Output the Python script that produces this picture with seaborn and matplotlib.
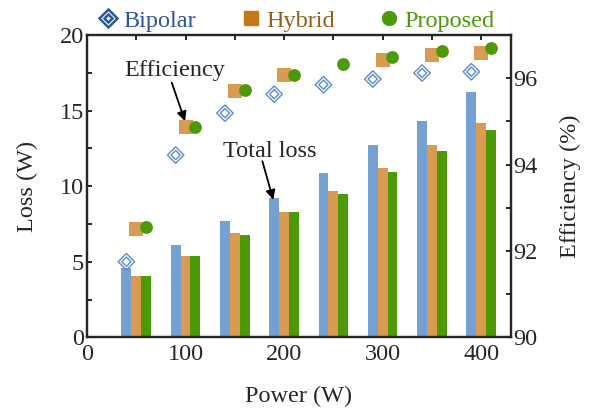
import numpy as np
import pandas as pd
import matplotlib
matplotlib.use("Agg")
import matplotlib.pyplot as plt
import seaborn as sns
from matplotlib.lines import Line2D
from matplotlib.legend_handler import HandlerTuple
from matplotlib.ticker import MultipleLocator

# ---- data ----
powers = [50, 100, 150, 200, 250, 300, 350, 400]
series = ["Bipolar", "Hybrid", "Proposed"]
loss_bipolar = [4.6, 6.1, 7.7, 9.2, 10.9, 12.7, 14.3, 16.2]
loss_hybrid = [4.05, 5.4, 6.9, 8.3, 9.7, 11.2, 12.75, 14.2]
loss_proposed = [4.05, 5.4, 6.8, 8.3, 9.5, 10.95, 12.35, 13.7]
eff_bipolar = [91.75, 94.22, 95.19, 95.63, 95.85, 95.98, 96.12, 96.15]
eff_hybrid = [92.5, 94.88, 95.71, 96.08, np.nan, 96.41, 96.54, 96.59]
eff_proposed = [92.56, 94.88, 95.73, 96.08, 96.34, 96.50, 96.64, 96.71]
x_ticks = [0, 100, 200, 300, 400]
left_ticks = [0, 5, 10, 15, 20]
right_ticks = [90, 92, 94, 96]

sns.set_style("ticks")
plt.rcParams["font.family"] = ["Liberation Serif", "DejaVu Serif"]

FS = 17.5

bar_colors = {"Bipolar": "#74a1d2", "Hybrid": "#d99b52", "Proposed": "#4c9a07"}

loss_df = pd.DataFrame({
    "Power": powers * 3,
    "Loss": loss_bipolar + loss_hybrid + loss_proposed,
    "Topology": [s for s in series for _ in powers],
})

fig = plt.figure(figsize=(5.97, 4.09), dpi=100)
ax = fig.add_axes([0.1457, 0.1753, 0.7098, 0.7391])

sns.barplot(data=loss_df, x="Power", y="Loss", hue="Topology", palette=bar_colors,
            native_scale=True, width=0.6, linewidth=0, saturation=1, ax=ax,
            legend=False, errorbar=None)

ax.set_xlim(0, 430)
ax.set_ylim(0, 20)
ax.set_xticks(x_ticks)
ax.xaxis.set_minor_locator(MultipleLocator(50))
ax.set_yticks(left_ticks)
ax.yaxis.set_minor_locator(MultipleLocator(2.5))
ax.tick_params(which="both", direction="in", length=3.5, width=1.4, top=True,
               labelsize=FS, pad=2)
ax.tick_params(axis="x", pad=5)
ax.set_xlabel("Power (W)", fontsize=FS, labelpad=15)
ax.set_ylabel("Loss (W)", fontsize=FS, labelpad=16)
for sp in ax.spines.values():
    sp.set_linewidth(1.6)

ax2 = ax.twinx()
ax2.set_ylim(90, 97)
ax2.set_yticks(right_ticks)
ax2.yaxis.set_minor_locator(MultipleLocator(1))
ax2.tick_params(which="both", direction="in", length=3.5, width=1.4, labelsize=FS, pad=2)
ax2.set_ylabel("Efficiency (%)", fontsize=FS, labelpad=16)
for sp in ax2.spines.values():
    sp.set_linewidth(1.6)

pw = np.array(powers, dtype=float)
sns.scatterplot(x=pw - 10, y=eff_bipolar, marker="D", s=70, facecolor="none",
                edgecolor="#5b8cc8", linewidth=1.0, ax=ax2, zorder=5)
sns.scatterplot(x=pw - 10, y=eff_bipolar, marker="D", s=22, facecolor="none",
                edgecolor="#5b8cc8", linewidth=1.0, ax=ax2, zorder=5)
sns.scatterplot(x=pw, y=eff_hybrid, marker="s", s=95, color="#d99b52",
                linewidth=0, ax=ax2, zorder=5)
sns.scatterplot(x=pw + 10, y=eff_proposed, marker="o", s=85, color="#4c9a07",
                linewidth=0, ax=ax2, zorder=6)
ax2.set_xlim(0, 430)

# annotations
ax.text(89, 17.66, "Efficiency", fontsize=FS, ha="center", va="center")
ax.annotate("", xy=(99.5, 14.3), xytext=(86, 16.85),
            arrowprops=dict(arrowstyle="-|>", color="black", lw=1.3,
                            mutation_scale=14, shrinkA=0, shrinkB=0))
ax.text(185, 12.29, "Total loss", fontsize=FS, ha="center", va="center")
ax.annotate("", xy=(189, 9.1), xytext=(178, 11.65),
            arrowprops=dict(arrowstyle="-|>", color="black", lw=1.3,
                            mutation_scale=14, shrinkA=0, shrinkB=0))

# legend
h_bip = (Line2D([], [], ls="none", marker="D", ms=9, mfc="none", mec="#2d5a9a", mew=1.8),
         Line2D([], [], ls="none", marker="D", ms=4, mfc="none", mec="#2d5a9a", mew=1.8))
h_hyb = Line2D([], [], ls="none", marker="s", ms=10, mfc="#c27a17", mec="#c27a17")
h_pro = Line2D([], [], ls="none", marker="o", ms=10, mfc="#4c9a07", mec="#4c9a07")
leg = ax2.legend([h_bip, h_hyb, h_pro], series, loc="lower center",
                 bbox_to_anchor=(0.492, 0.995), ncol=3, frameon=False, fontsize=FS,
                 handletextpad=0.13, columnspacing=1.75, handlelength=1.0,
                 handler_map={tuple: HandlerTuple(ndivide=1, pad=0)},
                 labelcolor=["#2e5597", "#94611c", "#4c9a07"],
                 borderaxespad=0.1, borderpad=0.1)

fig.savefig("out.png", dpi=100)
